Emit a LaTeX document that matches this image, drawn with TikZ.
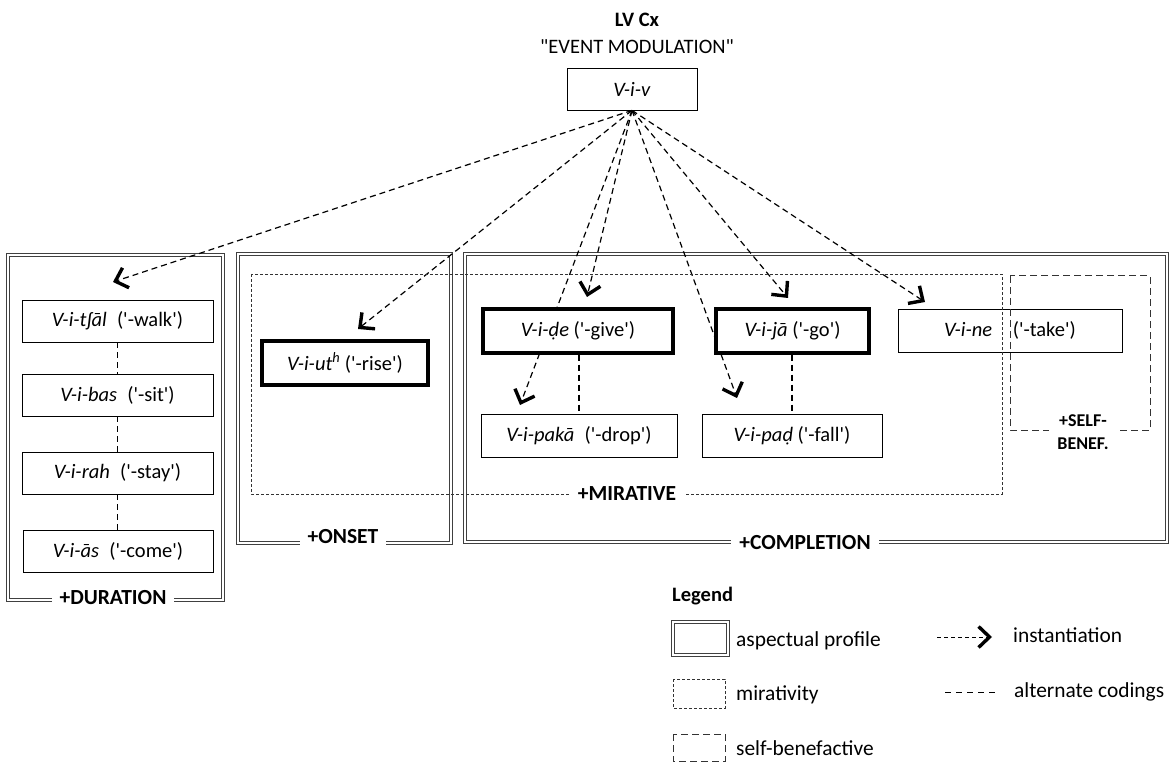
\documentclass[tikz,border=0pt]{standalone}
\usepackage{fontspec}
\setmainfont{Carlito}[Ligatures=TeXOff]
\usetikzlibrary{arrows.meta}
\tikzset{
  box/.style={draw, fill=white, line width=0.8pt, inner sep=0pt, font=\fontsize{20.5}{24}\selectfont},
  thickbox/.style={box, line width=3.4pt},
  region/.style={draw=black!75, double, double distance=2.2pt, line width=0.8pt},
  mir/.style={draw=black!80, line width=0.8pt, dash pattern=on 3pt off 2pt},
  selfb/.style={draw=black!80, line width=1pt, dash pattern=on 7pt off 4pt},
  inst/.style={line width=1.2pt, dash pattern=on 6pt off 4pt, -{Straight Barb[length=11pt,width=21pt,line width=3.4pt]}},
  alt/.style={line width=1.2pt, dash pattern=on 6pt off 4pt},
  lbl/.style={fill=white, inner xsep=8pt, inner ysep=1pt, font=\fontsize{21.5}{25}\selectfont\bfseries},
  txt/.style={font=\fontsize{21.4}{25}\selectfont, inner sep=0pt}
}
\begin{document}
\begin{tikzpicture}[x=1pt,y=-1pt]
\useasboundingbox (0,0) rectangle (1171,762);
% title
\node[txt, font=\fontsize{20.5}{24}\selectfont\bfseries] (title) at (637,20) {LV Cx};
\node[txt, font=\fontsize{20.5}{24}\selectfont] (sub) at (637,47) {"EVENT MODULATION"};
\node[box, minimum width=130pt, minimum height=42pt] (viv) at (632,89) {\textit{V-i-v}};

% regions (double line)
\draw[region] (8,255) rectangle (223,600);
\draw[region] (238,254) rectangle (451,543);
\draw[region] (465,254) rectangle (1167,542);

% arrows
\coordinate (e1) at (113,282);
\coordinate (e2) at (358,329);
\coordinate (e3) at (587,297);
\coordinate (e4) at (520,405);
\coordinate (e5) at (737,398);
\coordinate (e6) at (788,298);
\coordinate (e7) at (925,302);
\foreach \e in {e1,e2,e3,e4,e5,e6,e7} \draw[inst] (viv.south) -- (\e);

% duration boxes
\node[box, minimum width=191pt, minimum height=42pt] (walk) at (117.5,321) {\textit{V-i-tʃāl}\enspace('-walk')};
\node[box, minimum width=191pt, minimum height=42pt] (bas) at (117.5,395) {\textit{V-i-bas}\enspace('-sit')};
\node[box, minimum width=191pt, minimum height=42pt] (rah) at (117.5,473) {\textit{V-i-rah}\enspace('-stay')};
\node[box, minimum width=190pt, minimum height=42pt] (come) at (118,551) {\textit{V-i-ās}\enspace('-come')};
\draw[alt] (walk) -- (bas);
\draw[alt] (bas) -- (rah);
\draw[alt] (rah.south) -- (rah.south |- come.north);

% onset
\node[thickbox, minimum width=166pt, minimum height=44pt] (uth) at (345,363) {\textit{V-i-ut\textsuperscript{h}} ('-rise')};

% completion
\node[thickbox, minimum width=190pt, minimum height=44pt] (de) at (578,331) {\textit{V-i-ḍe} ('-give')};
\node[thickbox, minimum width=153pt, minimum height=44pt] (ja) at (792.5,331) {\textit{V-i-jā} ('-go')};
\node[box, minimum width=196pt, minimum height=43pt] (paka) at (579,435.5) {\textit{V-i-pakā}\enspace('-drop')};
\node[box, minimum width=180pt, minimum height=43pt] (pad) at (792,435.5) {\textit{V-i-paḍ} ('-fall')};
\node[box, minimum width=224pt, minimum height=43pt] (ne) at (1010,330.5) {\textit{V-i-ne}\quad('-take')};
\draw[alt] (paka.north |- de.south) -- (paka.north);
\draw[alt] (pad.north |- ja.south) -- (pad.north);

% mirative and self-benefactive regions
\draw[mir] (251,274) rectangle (1002,494);
\draw[selfb] (1010,276) rectangle (1150,430);

% region labels
\node[lbl] (ldur) at (113,598) {+DURATION};
\node[lbl] (lons) at (343,537) {+ONSET};
\node[lbl] (lcom) at (805,543) {+COMPLETION};
\node[lbl] (lmir) at (627,494) {+MIRATIVE};
\node[lbl, align=center, font=\fontsize{18}{23}\selectfont\bfseries] (lsb) at (1083,432) {+SELF-\\BENEF.};

% legend
\node[txt, anchor=west, font=\fontsize{20.5}{24}\selectfont\bfseries] (leg) at (672,596) {Legend};
\draw[region] (673,622) rectangle (728,655);
\node[txt, anchor=west] (lap) at (736,641) {aspectual profile};
\draw[mir] (673,679) rectangle (725,708);
\node[txt, anchor=west] (lmv) at (736,695) {mirativity};
\draw[selfb] (673,734) rectangle (725,761);
\node[txt, anchor=west] (lsf) at (736,748) {self-benefactive};
\coordinate (i1) at (937,637);
\coordinate (i2) at (992,637);
\draw[inst, line width=1pt, dash pattern=on 4pt off 3pt] (i1) -- (i2);
\node[txt, anchor=west] (lin) at (1013,635) {instantiation};
\coordinate (c1) at (945,692);
\coordinate (c2) at (998,692);
\draw[alt, line width=1pt, dash pattern=on 6pt off 5pt] (c1) -- (c2);
\node[txt, anchor=west] (lac) at (1014,692) {alternate codings};
\end{tikzpicture}
\end{document}
